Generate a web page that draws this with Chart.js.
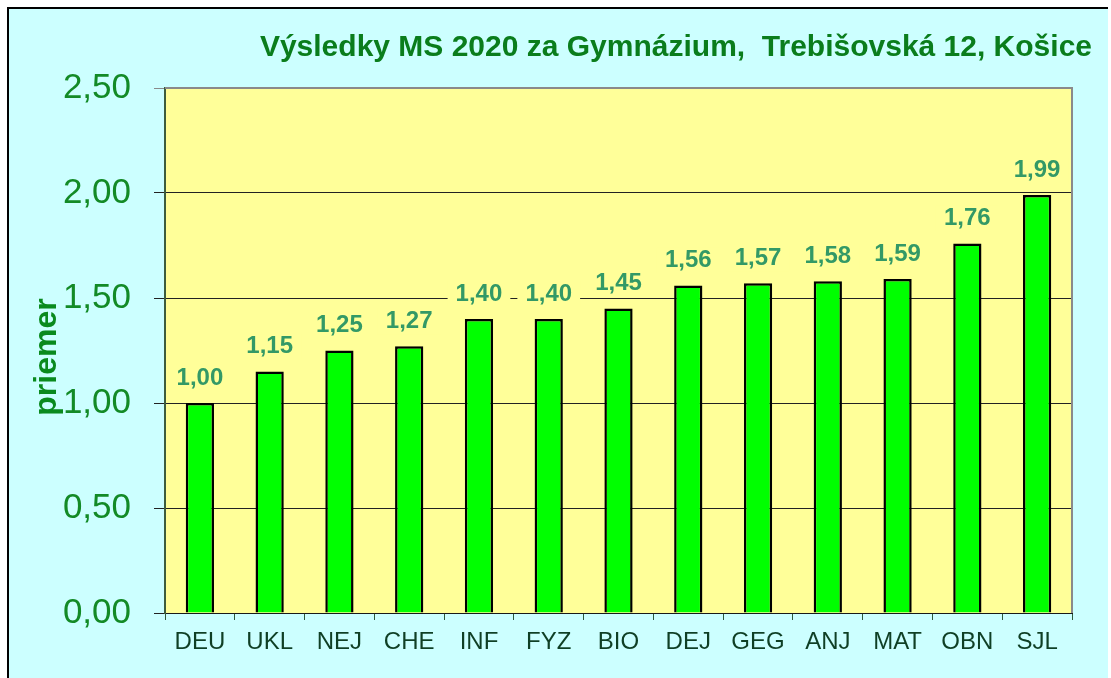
<!DOCTYPE html>
<html>
<head>
<meta charset="utf-8">
<script src="https://cdn.jsdelivr.net/npm/chart.js@4/dist/chart.umd.min.js"></script>
<style>
  html, body { margin: 0; padding: 0; background: #ffffff; }
  #wrap { position: absolute; left: 0; top: 0; width: 1111px; height: 678px; }
</style>
</head>
<body>
<div id="wrap"><canvas id="c" width="1111" height="678"></canvas></div>
<script>
const TITLE = 'Výsledky MS 2020 za Gymnázium,  Trebišovská 12, Košice';
const Y_TITLE = 'priemer';
const categories = ['DEU', 'UKL', 'NEJ', 'CHE', 'INF', 'FYZ', 'BIO', 'DEJ', 'GEG', 'ANJ', 'MAT', 'OBN', 'SJL'];
const averages = [1.00, 1.15, 1.25, 1.27, 1.40, 1.40, 1.45, 1.56, 1.57, 1.58, 1.59, 1.76, 1.99];
const yTicks = [0, 0.5, 1.0, 1.5, 2.0, 2.5];

const FONT = '"Liberation Sans", Arial, sans-serif';
const fmt = v => v.toFixed(2).replace('.', ',');

const backgroundPlugin = {
  id: 'bg',
  beforeDraw(chart) {
    const ctx = chart.ctx;
    const a = chart.chartArea;
    ctx.save();
    ctx.fillStyle = '#ffffff';
    ctx.fillRect(0, 0, chart.width, chart.height);
    ctx.fillStyle = '#CCFFFF';
    ctx.fillRect(8, 9, 1100, chart.height - 9);
    ctx.fillStyle = '#000000';
    ctx.fillRect(7, 7, 1101, 2);
    ctx.fillRect(7, 7, 2, chart.height - 7);
    ctx.fillStyle = '#FFFF99';
    ctx.fillRect(a.left, a.top, a.right - a.left, a.bottom - a.top);
    ctx.restore();
  },
  afterDraw(chart) {
    const ctx = chart.ctx;
    const a = chart.chartArea;
    ctx.save();
    ctx.strokeStyle = '#8a8a8a';
    ctx.lineWidth = 2;
    ctx.beginPath();
    ctx.moveTo(a.left, a.top);
    ctx.lineTo(a.right, a.top);
    ctx.lineTo(a.right, a.bottom);
    ctx.stroke();
    ctx.fillStyle = '#0a7d1c';
    ctx.font = 'bold 30px ' + FONT;
    ctx.textAlign = 'right';
    ctx.textBaseline = 'middle';
    ctx.fillText(TITLE, 1092, 48);
    // y axis title
    ctx.translate(47, 357);
    ctx.rotate(-Math.PI / 2);
    ctx.fillStyle = '#0a8a1e';
    ctx.font = 'bold 32px ' + FONT;
    ctx.textAlign = 'center';
    ctx.textBaseline = 'middle';
    ctx.fillText(Y_TITLE, 0, 0);
    ctx.restore();
  }
};

const labelPlugin = {
  id: 'vlabels',
  afterDatasetsDraw(chart) {
    const ctx = chart.ctx;
    const meta = chart.getDatasetMeta(0);
    ctx.save();
    ctx.font = 'bold 24px ' + FONT;
    ctx.textAlign = 'center';
    ctx.textBaseline = 'middle';
    meta.data.forEach((bar, i) => {
      const txt = fmt(averages[i]);
      const w = ctx.measureText(txt).width;
      const cy = bar.y - 25;
      ctx.fillStyle = '#FFFF99';
      ctx.fillRect(bar.x - w / 2 - 8, cy - 13, w + 16, 26);
      ctx.fillStyle = '#339966';
      ctx.fillText(txt, bar.x, cy);
    });
    ctx.restore();
  }
};

new Chart(document.getElementById('c'), {
  type: 'bar',
  data: {
    labels: categories,
    datasets: [{
      data: averages,
      backgroundColor: '#00FF00',
      borderColor: '#000000',
      borderWidth: 2.5,
      borderSkipped: 'bottom',
      barPercentage: 0.405,
      categoryPercentage: 1.0
    }]
  },
  options: {
    responsive: false,
    animation: false,
    devicePixelRatio: 1,
    layout: { padding: { top: 88, right: 39, left: 0, bottom: 0 } },
    plugins: {
      legend: { display: false },
      tooltip: { enabled: false },
      title: { display: false }
    },
    scales: {
      x: {
        afterFit(s) { s.height = 65; },
        grid: { drawOnChartArea: false, offset: true, tickLength: 7, color: '#2f5a3a', lineWidth: 1 },
        border: { color: '#1a1a1a', width: 1 },
        ticks: { color: '#0f3f25', font: { family: FONT, size: 24 }, padding: 8, maxRotation: 0, autoSkip: false }
      },
      y: {
        min: 0,
        max: 2.5,
        afterFit(s) { s.width = 165; },
        afterBuildTicks(s) { s.ticks = yTicks.map(v => ({ value: v })); },
        grid: {
          color: ctx => (ctx.tick && ctx.tick.value === 2.5) ? '#8a8a8a' : '#222222',
          lineWidth: 1,
          tickLength: 11
        },
        border: { color: '#3d5c3d', width: 2 },
        ticks: {
          color: '#138a26',
          font: { family: FONT, size: 35 },
          padding: 23,
          callback: v => fmt(v)
        },
        title: { display: false }
      }
    }
  },
  plugins: [backgroundPlugin, labelPlugin]
});
</script>
</body>
</html>
